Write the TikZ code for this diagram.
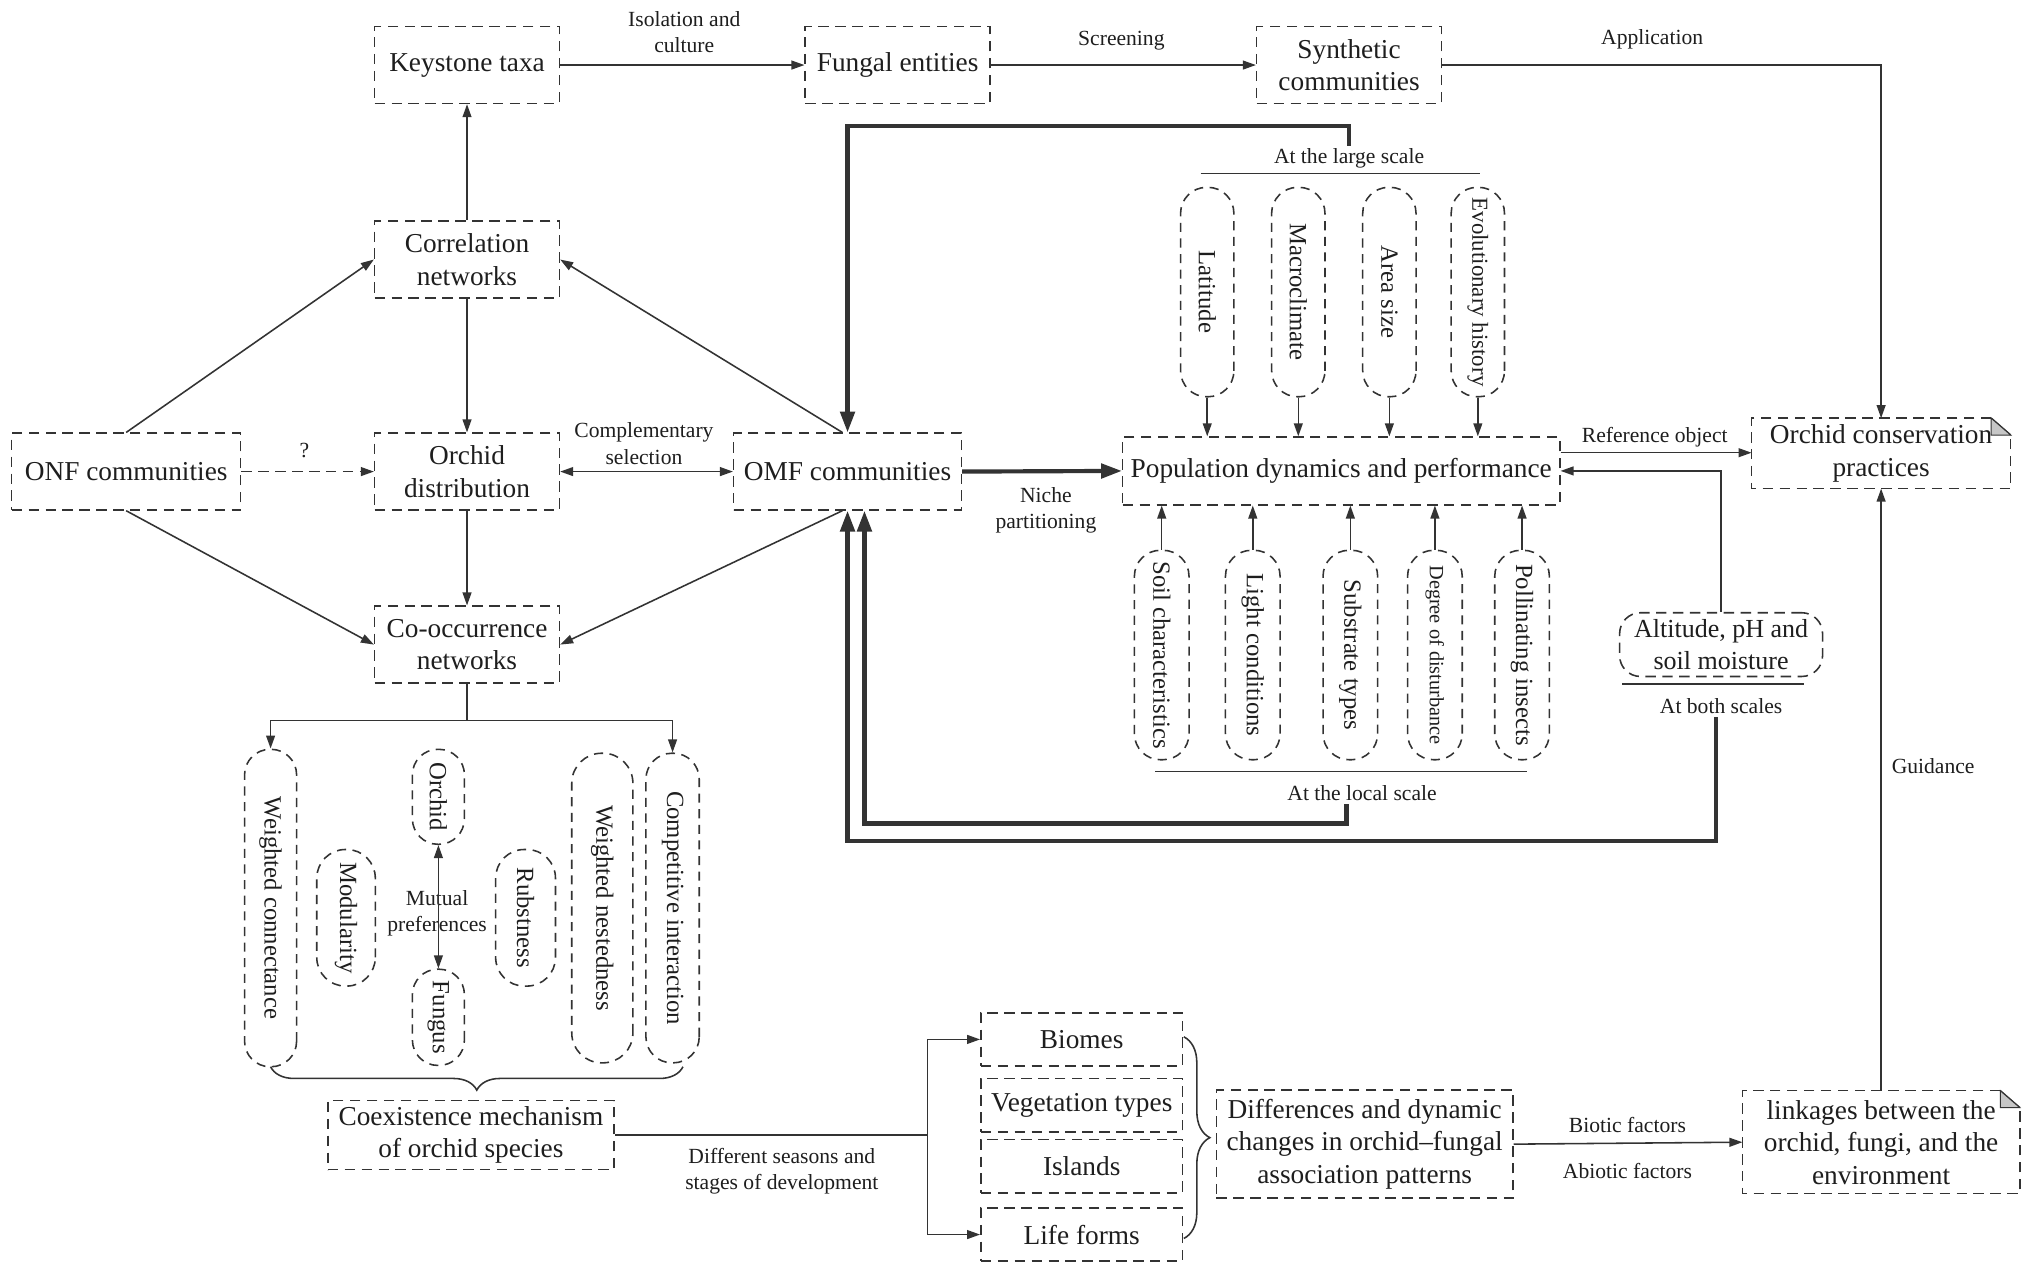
\documentclass[tikz,border=0pt]{standalone}
\usepackage{fontspec}
\setmainfont{Liberation Serif}
\usetikzlibrary{arrows.meta,decorations.pathreplacing,calc}
\definecolor{lc}{HTML}{333333}
\definecolor{tc}{HTML}{1E1E1E}
\begin{document}
\begin{tikzpicture}[x=0.5pt,y=-0.5pt,
 ln/.style={draw=lc, line width=0.6pt},
 arr/.style={ln, -{Triangle[length=5pt,width=3.4pt]}},
 arrb/.style={ln, {Triangle[length=5pt,width=3.4pt]}-{Triangle[length=5pt,width=3.4pt]}},
 thk/.style={draw=lc, line width=1.6pt},
 thkarr/.style={thk, -{Triangle[length=8pt,width=5.5pt]}},
 dsh/.style={dash pattern=on 4pt off 2.5pt},
 box/.style={draw=lc, line width=0.6pt, dsh, align=center, inner sep=1pt, text=tc, font=\fontsize{10.5}{12.5}\selectfont},
 sbox/.style={box, minimum width=71pt, minimum height=29.5pt},
 pill/.style={draw=lc, line width=0.6pt, dash pattern=on 3.5pt off 2.5pt, rotate=-90, inner sep=0pt, text=tc, font=\fontsize{9.5}{11}\selectfont},
 lbl/.style={text=tc, font=\fontsize{8.3}{10}\selectfont, align=center, inner sep=1pt},
]
\useasboundingbox (0,0) rectangle (1562,979.3);
\fill[white] (0,0) rectangle (1562,979.3);

% ---- main boxes
\node[sbox] (key) at (359,50) {Keystone taxa};
\node[sbox] (fung) at (690,50) {Fungal entities};
\node[sbox] (syn) at (1037,50) {Synthetic\\communities};
\node[sbox] (corr) at (359,199.5) {Correlation\\networks};
\node[sbox] (odist) at (359,362.5) {Orchid\\distribution};
\node[sbox] (co) at (359,495.5) {Co-occurrence\\networks};
\node[box, minimum width=88pt, minimum height=29.5pt] (onf) at (97,362.5) {ONF communities};
\node[box, minimum width=87.5pt, minimum height=29.5pt] (omf) at (651.5,362.5) {OMF communities};
\node[box, minimum width=168pt, minimum height=26pt] (pop) at (1031,362) {Population dynamics and performance};
\node[box, draw=none, minimum width=99pt, minimum height=26.5pt] (oc) at (1446,348.5) {Orchid conservation\\practices};
\node[box, draw=none, minimum width=106pt, minimum height=39pt] (link) at (1446,878) {linkages between the\\orchid, fungi, and the\\environment};
\node[box, minimum width=114pt, minimum height=41.5pt] (diff) at (1049,879.5) {Differences and dynamic\\changes in orchid–fungal\\association patterns};
\node[box, minimum width=110pt, minimum height=26.5pt] (coex) at (362,872.5) {Coexistence mechanism\\of orchid species};
\node[box, minimum width=77.5pt, minimum height=20.5pt] (biomes) at (831.5,799) {Biomes};
\node[box, minimum width=77.5pt, minimum height=20.5pt] (veg) at (831.5,849.5) {Vegetation types};
\node[box, minimum width=77.5pt, minimum height=20.5pt] (isl) at (831.5,896.5) {Islands};
\node[box, minimum width=77.5pt, minimum height=20.5pt] (life) at (831.5,949) {Life forms};
\node[box, rounded corners=8pt, minimum width=78pt, minimum height=24.5pt, font=\fontsize{10}{12}\selectfont] (alt) at (1323,495.5) {Altitude, pH and\\soil moisture};

% folded-corner outlines
\draw[ln, dsh] ([xshift=-7.5pt]oc.north east) -- (oc.north west) -- (oc.south west) -- (oc.south east) -- ([yshift=-6.5pt]oc.north east);
\draw[ln] ([xshift=-7.5pt]oc.north east) -- ([yshift=-6.5pt]oc.north east);
\filldraw[draw=lc, fill=gray!45, line width=0.4pt] ([xshift=-7.5pt]oc.north east) -- ([xshift=-7.5pt,yshift=-6.5pt]oc.north east) -- ([yshift=-6.5pt]oc.north east) -- cycle;
\draw[ln, dsh] ([xshift=-7.5pt]link.north east) -- (link.north west) -- (link.south west) -- (link.south east) -- ([yshift=-6.5pt]link.north east);
\draw[ln] ([xshift=-7.5pt]link.north east) -- ([yshift=-6.5pt]link.north east);
\filldraw[draw=lc, fill=gray!45, line width=0.4pt] ([xshift=-7.5pt]link.north east) -- ([xshift=-7.5pt,yshift=-6.5pt]link.north east) -- ([yshift=-6.5pt]link.north east) -- cycle;

% ---- pills (large scale)
\node[pill, minimum width=80.5pt, minimum height=20.5pt, rounded corners=10pt] (lat) at (928,224.5) {Latitude};
\node[pill, minimum width=80.5pt, minimum height=20.5pt, rounded corners=10pt] (mac) at (998,224.5) {Macroclimate};
\node[pill, minimum width=80.5pt, minimum height=20.5pt, rounded corners=10pt] (area) at (1068,224.5) {Area size};
\node[pill, minimum width=80.5pt, minimum height=20.5pt, rounded corners=10pt, font=\fontsize{8.8}{10}\selectfont] (evo) at (1136,224.5) {Evolutionary history};
% ---- pills (local scale)
\node[pill, minimum width=80.5pt, minimum height=21pt, rounded corners=10pt] (soil) at (893,503.5) {Soil characteristics};
\node[pill, minimum width=80.5pt, minimum height=21pt, rounded corners=10pt] (light) at (963,503.5) {Light conditions};
\node[pill, minimum width=80.5pt, minimum height=21pt, rounded corners=10pt] (subs) at (1038,503.5) {Substrate types};
\node[pill, minimum width=80.5pt, minimum height=21pt, rounded corners=10pt, font=\fontsize{7.8}{9}\selectfont] (deg) at (1103,503.5) {Degree of disturbance};
\node[pill, minimum width=80.5pt, minimum height=21pt, rounded corners=10pt] (poll) at (1170,503.5) {Pollinating insects};
% ---- pills (network metrics)
\node[pill, minimum width=122pt, minimum height=20pt, rounded corners=9.8pt] (wc) at (208,698) {Weighted connectance};
\node[pill, minimum width=36.5pt, minimum height=20pt, rounded corners=9.8pt] (orch) at (337,612.5) {Orchid};
\node[pill, minimum width=52.5pt, minimum height=22.5pt, rounded corners=11pt] (mod) at (266,705.5) {Modularity};
\node[pill, minimum width=52.5pt, minimum height=23pt, rounded corners=11pt] (rob) at (404,705.5) {Rubstness};
\node[pill, minimum width=37pt, minimum height=20pt, rounded corners=9.8pt] (fun) at (337,782) {Fungus};
\node[pill, minimum width=119pt, minimum height=23.5pt, rounded corners=11.5pt] (wn) at (463,698) {Weighted nestedness};
\node[pill, minimum width=119pt, minimum height=20.5pt, rounded corners=10pt] (ci) at (517,698) {Competitive interaction};

% ---- labels
\node[lbl] (l_iso) at (526,25) {Isolation and\\culture};
\node[lbl] (l_scr) at (862,31) {Screening};
\node[lbl] (l_app) at (1270,30) {Application};
\node[lbl] (l_q) at (234,346) {?};
\node[lbl] (l_comp) at (495,341) {Complementary\\selection};
\node[lbl] (l_niche) at (804,392) {Niche\\partitioning};
\node[lbl] (l_ref) at (1272,336) {Reference object};
\node[lbl] (large) at (1037,122) {At the large scale};
\node[lbl] (local) at (1047,610) {At the local scale};
\node[lbl] (both) at (1323,543) {At both scales};
\node[lbl] (l_guid) at (1486,589) {Guidance};
\node[lbl] (l_mut) at (336,702) {Mutual\\preferences};
\node[lbl] (l_diffs) at (601,900) {Different seasons and\\stages of development};
\node[lbl] (l_bio) at (1251,865) {Biotic factors};
\node[lbl] (l_abio) at (1251,900) {Abiotic factors};

% scale rules
\draw[ln] (923,133.5) -- (1138,133.5);
\draw[ln] (888,593) -- (1174,593);
\draw[ln] (1247,526) -- (1387,526);

% ---- thin connectors
\draw[arr] (key.east) -- (fung.west);
\draw[arr] (fung.east) -- (syn.west);
\draw[arr] (syn.east) -| (oc.north);
\draw[arr] (corr.north) -- (key.south);
\draw[arr] (corr.south) -- (odist.north);
\draw[arr] (odist.south) -- (co.north);
\draw[arr] (onf.north) -- (corr.west);
\draw[arr] (onf.south) -- (co.west);
\draw[arr] ([xshift=-2pt]omf.north) -- (corr.east);
\draw[arr] ([xshift=-2pt]omf.south) -- (co.east);
\draw[arr, dash pattern=on 4pt off 2.5pt] (onf.east) -- (odist.west);
\draw[arrb] (odist.east) -- (omf.west);

\foreach \p in {lat,mac,area,evo}{\draw[arr] (\p.east) -- (\p.east |- pop.north);}
\foreach \p in {soil,light,subs,deg,poll}{\draw[arr] (\p.west) -- (\p.west |- pop.south);}
\draw[arr] (alt.north) |- (pop.east);
\coordinate (pr) at ([yshift=7pt]pop.east);
\draw[arr] (pr) -- (pr -| oc.west);
\draw[arr] (link.north) -- (oc.south);

\coordinate (brn) at (359,554);
\draw[ln] (co.south) -- (brn);
\draw[arr] (brn) -| (wc.west);
\draw[arr] (brn) -| (ci.west);
\draw[arrb] (orch.east) -- (fun.west);

\coordinate (bl) at (208,820);
\coordinate (brr) at (525,820);
\draw[ln, decorate, decoration={brace, mirror, amplitude=9pt}] (bl) -- (brr);

\coordinate (sp) at (713,872.5);
\draw[ln] (coex.east) -- (sp);
\draw[arr] (sp) |- (biomes.west);
\draw[arr] (sp) |- (life.west);

\coordinate (rb1) at (910,797);
\coordinate (rb2) at (910,952);
\draw[ln, decorate, decoration={brace, amplitude=10pt}] (rb1) -- (rb2);

\draw[arr] (diff.east) -- (link.west);

% ---- thick connectors
\draw[thkarr] (omf.east) -- (pop.west);
\coordinate (t1) at (651.5,97);
\draw[thkarr] (large.north) |- (t1) -- (omf.north);
\coordinate (t2) at (664.5,633);
\draw[thkarr] ([xshift=-6pt]local.south) |- (t2) -- ([xshift=6.5pt]omf.south);
\coordinate (t3) at (651.5,646.5);
\draw[thkarr] ([xshift=-2pt]both.south) |- (t3) -- (omf.south);
\end{tikzpicture}
\end{document}
